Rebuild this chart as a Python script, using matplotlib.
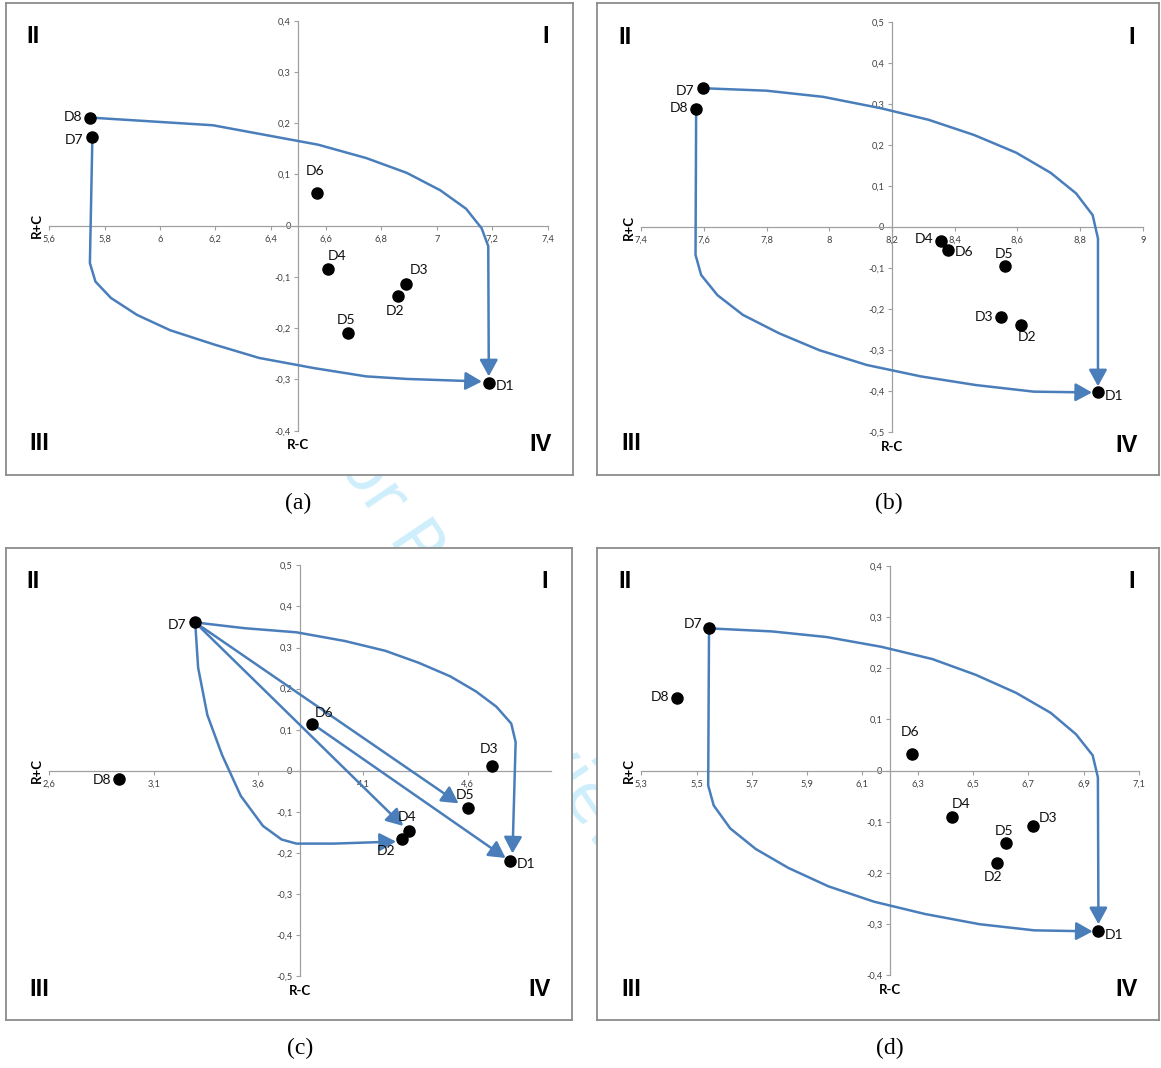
import matplotlib
matplotlib.use("Agg")
import matplotlib.pyplot as plt
from matplotlib.patches import FancyArrowPatch
from matplotlib.path import Path

# ---- data ----
names = ["D1", "D2", "D3", "D4", "D5", "D6", "D7", "D8"]

a_x = [7.190, 6.860, 6.890, 6.606, 6.681, 6.569, 5.756, 5.747]
a_y = [-0.306, -0.137, -0.113, -0.085, -0.209, 0.064, 0.173, 0.211]
b_x = [8.858, 8.612, 8.548, 8.355, 8.561, 8.378, 7.596, 7.575]
b_y = [-0.403, -0.238, -0.220, -0.035, -0.094, -0.057, 0.338, 0.287]
c_x = [4.802, 4.286, 4.717, 4.322, 4.600, 3.857, 3.298, 2.935]
c_y = [-0.220, -0.165, 0.013, -0.147, -0.090, 0.115, 0.361, -0.020]
d_x = [6.954, 6.586, 6.718, 6.425, 6.620, 6.278, 5.545, 5.430]
d_y = [-0.314, -0.180, -0.108, -0.091, -0.141, 0.033, 0.278, 0.142]

a_xticks = [5.6, 5.8, 6.0, 6.2, 6.4, 6.6, 6.8, 7.0, 7.2, 7.4]
b_xticks = [7.4, 7.6, 7.8, 8.0, 8.2, 8.4, 8.6, 8.8, 9.0]
c_xticks = [2.6, 3.1, 3.6, 4.1, 4.6]
d_xticks = [5.3, 5.5, 5.7, 5.9, 6.1, 6.3, 6.5, 6.7, 6.9, 7.1]
yticks_4 = [-0.4, -0.3, -0.2, -0.1, 0.0, 0.1, 0.2, 0.3, 0.4]
yticks_5 = [-0.5, -0.4, -0.3, -0.2, -0.1, 0.0, 0.1, 0.2, 0.3, 0.4, 0.5]

# arrow routes: (start point index, x list, y list) -- last point is the arrow tip
a_routes = [
    (7, [6.191, 6.572, 6.745, 6.892, 7.013, 7.106, 7.162, 7.186, 7.188],
        [0.196, 0.158, 0.132, 0.103, 0.069, 0.033, -0.005, -0.040, -0.294]),
    (6, [5.747, 5.767, 5.823, 5.917, 6.037, 6.197, 6.358, 6.558, 6.745, 6.892, 7.163],
        [-0.073, -0.109, -0.141, -0.174, -0.204, -0.232, -0.258, -0.278, -0.294, -0.299, -0.304]),
]
b_routes = [
    (6, [7.799, 7.980, 8.166, 8.317, 8.462, 8.596, 8.706, 8.787, 8.840, 8.857, 8.857],
        [0.332, 0.317, 0.289, 0.261, 0.224, 0.181, 0.132, 0.082, 0.029, -0.028, -0.388]),
    (7, [7.573, 7.591, 7.643, 7.724, 7.840, 7.968, 8.119, 8.293, 8.468, 8.652, 8.838],
        [-0.068, -0.117, -0.166, -0.214, -0.259, -0.300, -0.336, -0.364, -0.385, -0.401, -0.403]),
]
c_routes = [
    (6, [4.557], [-0.079]),
    (6, [4.292], [-0.134]),
    (5, [4.782], [-0.212]),
    (6, [3.534, 3.782, 4.012, 4.207, 4.366, 4.517, 4.641, 4.738, 4.809, 4.830, 4.815],
        [0.347, 0.337, 0.316, 0.292, 0.263, 0.230, 0.193, 0.156, 0.115, 0.070, -0.201]),
    (6, [3.312, 3.356, 3.427, 3.516, 3.622, 3.711, 3.782, 3.959, 4.258],
        [0.251, 0.136, 0.038, -0.061, -0.134, -0.167, -0.177, -0.177, -0.172]),
]
d_routes = [
    (6, [5.773, 5.971, 6.168, 6.353, 6.511, 6.656, 6.781, 6.873, 6.933, 6.952, 6.954],
        [0.272, 0.261, 0.242, 0.218, 0.187, 0.152, 0.113, 0.071, 0.030, -0.013, -0.300]),
    (6, [5.542, 5.562, 5.622, 5.714, 5.832, 5.977, 6.142, 6.326, 6.524, 6.722, 6.933],
        [-0.029, -0.068, -0.113, -0.153, -0.190, -0.226, -0.256, -0.280, -0.300, -0.312, -0.314]),
]

# label offsets in pixels (right, up) for D1..D8
a_off = [(15.5, -3.3), (-3, -15), (13, 14), (9, 13), (-2, 13), (-2, 22), (-18.5, -2.7), (-17, 1)]
b_off = [(16, -3.3), (6.2, -12.7), (-16.8, 0.7), (-17, 2), (-1.5, 11.7), (16.4, -2), (-18, -2.7), (-17, 1)]
c_off = [(16, -2.4), (-15.5, -12.8), (-3, 16.8), (-2.6, 13.8), (-2.6, 12.8), (11.5, 11), (-18, -2.7), (-17.4, -0.7)]
d_off = [(16, -3.4), (-3.3, -14.5), (14.6, 8.4), (9, 13), (-2, 11.8), (-2, 21.9), (-16.4, 4.7), (-17, 0.7)]

BLUE = "#4a7ebb"
W, H = 1161, 1068

fig = plt.figure(figsize=(W / 100, H / 100), dpi=100)
fig.patch.set_facecolor("white")


def rect(x0, y0, x1, y1):
    return [x0 / W, 1 - y1 / H, (x1 - x0) / W, (y1 - y0) / H]


def fmt(v):
    return f"{round(v, 2):g}".replace(".", ",")


# faint diagonal watermark behind the panels
fig.text(530 / W, 1 - 715 / H, "For Peer Review Only", rotation=-56,
         color="#cfeefc", fontsize=48, ha="center", va="center",
         rotation_mode="anchor", zorder=-5, family="DejaVu Sans")


def panel(frame, plot, xlim, ylim, cross, xticks, yticks, px, py, routes, offs, cap, cap_xy):
    fx0, fy0, fx1, fy1 = frame
    fr = fig.add_axes(rect(*frame))
    fr.set_xticks([])
    fr.set_yticks([])
    fr.set_facecolor("white")
    for s in fr.spines.values():
        s.set_color("#8c8c8c")
        s.set_linewidth(1.3)
    fw, fh = fx1 - fx0, fy1 - fy0
    qkw = dict(transform=fr.transAxes, ha="center", va="center", fontsize=17,
               fontweight="bold", family="Liberation Sans", color="black")
    fr.text(28 / fw, 1 - 34 / fh, "II", **qkw)
    fr.text(1 - 27 / fw, 1 - 34 / fh, "I", **qkw)
    fr.text(34 / fw, 31 / fh, "III", **qkw)
    fr.text(1 - 32 / fw, 30 / fh, "IV", **qkw)

    fig.text(cap_xy[0] / W, 1 - cap_xy[1] / H, cap, ha="center", va="center",
             fontsize=17, family="Liberation Serif")

    ax = fig.add_axes(rect(*plot))
    ax.set_facecolor("none")
    ax.set_xlim(*xlim)
    ax.set_ylim(*ylim)
    ax.spines["top"].set_visible(False)
    ax.spines["right"].set_visible(False)
    ax.spines["left"].set_position(("data", cross))
    ax.spines["bottom"].set_position(("data", 0))
    for s in ("left", "bottom"):
        ax.spines[s].set_color("#a0a0a0")
        ax.spines[s].set_linewidth(0.9)
    ax.set_xticks(xticks)
    ax.set_xticklabels([fmt(v) for v in xticks])
    ax.set_yticks(yticks)
    ax.set_yticklabels([fmt(v) for v in yticks])
    ax.tick_params(length=3, width=0.8, color="#a0a0a0", labelsize=6.7,
                   labelcolor="#404040")
    ax.tick_params(axis="x", pad=3.5)
    ax.tick_params(axis="y", pad=2.5)
    for t in ax.get_xticklabels() + ax.get_yticklabels():
        t.set_family("Lato")

    ax.annotate("R-C", (cross, ylim[0]), xytext=(0, -10.5), textcoords="offset points",
                ha="center", va="center", fontsize=9.5, fontweight="bold", family="Lato")
    ax.annotate("R+C", (xlim[0], 0), xytext=(-9, 0), textcoords="offset points",
                ha="center", va="center", rotation=90, fontsize=9.5,
                fontweight="bold", family="Lato")

    for i0, rx, ry in routes:
        verts = [(px[i0], py[i0])] + list(zip(rx, ry))
        codes = [Path.MOVETO] + [Path.LINETO] * (len(verts) - 1)
        arr = FancyArrowPatch(path=Path(verts, codes),
                              arrowstyle="-|>,head_length=1.0,head_width=0.55",
                              mutation_scale=10, color=BLUE, lw=1.8,
                              joinstyle="round", capstyle="round", zorder=3)
        ax.add_patch(arr)

    ax.plot(px, py, "o", color="black", ms=8, zorder=4, clip_on=False)
    for name, x, y, (dx, dy) in zip(names, px, py, offs):
        ax.annotate(name, (x, y), xytext=(dx * 0.72, dy * 0.72), textcoords="offset points",
                    ha="center", va="center", fontsize=10, family="Lato", color="#111111",
                    zorder=5)


panel((5.5, 2.7, 573, 474.5), (49.2, 20.7, 547.5, 430.7), (5.6, 7.4), (-0.4, 0.4), 6.5,
      a_xticks, yticks_4, a_x, a_y, a_routes, a_off, "(a)", (298, 503))
panel((597, 3, 1159, 475), (641.3, 21.7, 1142.8, 432.3), (7.4, 9.0), (-0.5, 0.5), 8.2,
      b_xticks, yticks_5, b_x, b_y, b_routes, b_off, "(b)", (889, 503))
panel((5.5, 547.5, 572, 1020), (49.2, 565.3, 551.2, 976.4), (2.6, 5.0), (-0.5, 0.5), 3.8,
      c_xticks, yticks_5, c_x, c_y, c_routes, c_off, "(c)", (300, 1048))
panel((597, 547.5, 1159, 1020), (641.3, 565.9, 1138.8, 975.4), (5.3, 7.1), (-0.4, 0.4), 6.2,
      d_xticks, yticks_4, d_x, d_y, d_routes, d_off, "(d)", (890, 1048))

fig.savefig("out.png", dpi=100)
